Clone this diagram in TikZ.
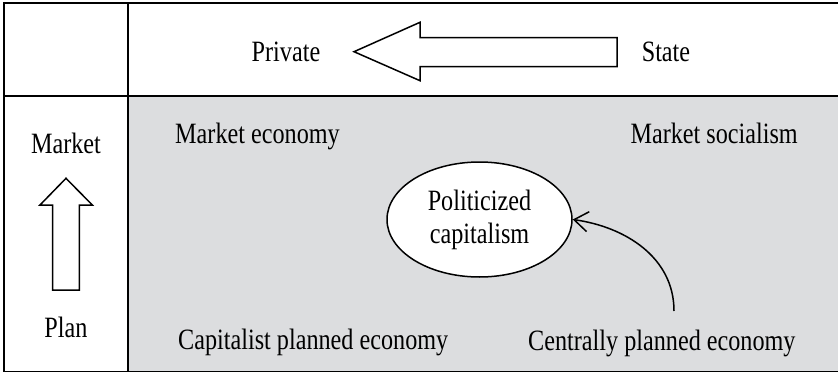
\documentclass[tikz,border=0pt]{standalone}
\usepackage{fontspec}
\setmainfont[FakeStretch=0.82]{Liberation Serif}
\usetikzlibrary{positioning,shapes.geometric,arrows.meta}

\definecolor{panelgray}{HTML}{DCDDDF}
\tikzset{
    lbl/.style = {inner sep = 0pt, font = \fontsize{29.5}{33}\selectfont},
    frame/.style = {line width = 1.3},
    blockarrow/.style = {draw, line width = 1.5, fill = white, line join = miter},
}

\begin{document}
\begin{tikzpicture}[x = 1pt, y = 1pt]
    \useasboundingbox (0,0) rectangle (838,373);

    % grey panel and table lines
    \path [fill = panelgray] (128,1.5) rectangle (838,277);
    \draw [frame] (838,370) -- (4,370) -- (4,1.5) -- (838,1.5);
    \draw [frame] (4,277) -- (838,277);
    \draw [frame] (128,370) -- (128,1.5);

    % ownership axis
    \node [lbl, anchor = base] (private) at (286,311) {Private};
    \node [lbl, anchor = base] (state)   at (666,311) {State};
    \draw [blockarrow] (354,321.3) -- (420,350.7) -- (420,335.3) -- (617,335.3)
        -- (617,306.3) -- (420,306.3) -- (420,292.3) -- cycle;

    % coordination axis
    \node [lbl, anchor = base] (market) at (66,220) {Market};
    \node [lbl, anchor = base] (plan)   at (66,36)  {Plan};
    \draw [blockarrow] (66,194.7) -- (92.3,168) -- (79.3,168) -- (79.3,83)
        -- (52.7,83) -- (52.7,168) -- (40,168) -- cycle;

    % the four systems
    \node [lbl, anchor = base west] (mkteco) at (175,230) {Market economy};
    \node [lbl, anchor = base east] (mktsoc) at (798,230) {Market socialism};
    \node [lbl, anchor = base west] (cappe)  at (178,24)  {Capitalist planned economy};
    \node [lbl, anchor = base west] (cenpe)  at (528,23)  {Centrally planned economy};

    \node [ellipse, draw, line width = 1.5, fill = white, inner sep = 0pt,
           minimum width = 185, minimum height = 115, align = center,
           font = \fontsize{29.5}{33}\selectfont] (polcap) at (479.5,153.5)
        {Politicized\\capitalism};

    \coordinate (drift) at (674,62);
    \draw [line width = 1.5, -{Straight Barb[length = 14pt, width = 20pt]}]
        (drift) to [out = 90, in = -8] (polcap.east);
\end{tikzpicture}
\end{document}
